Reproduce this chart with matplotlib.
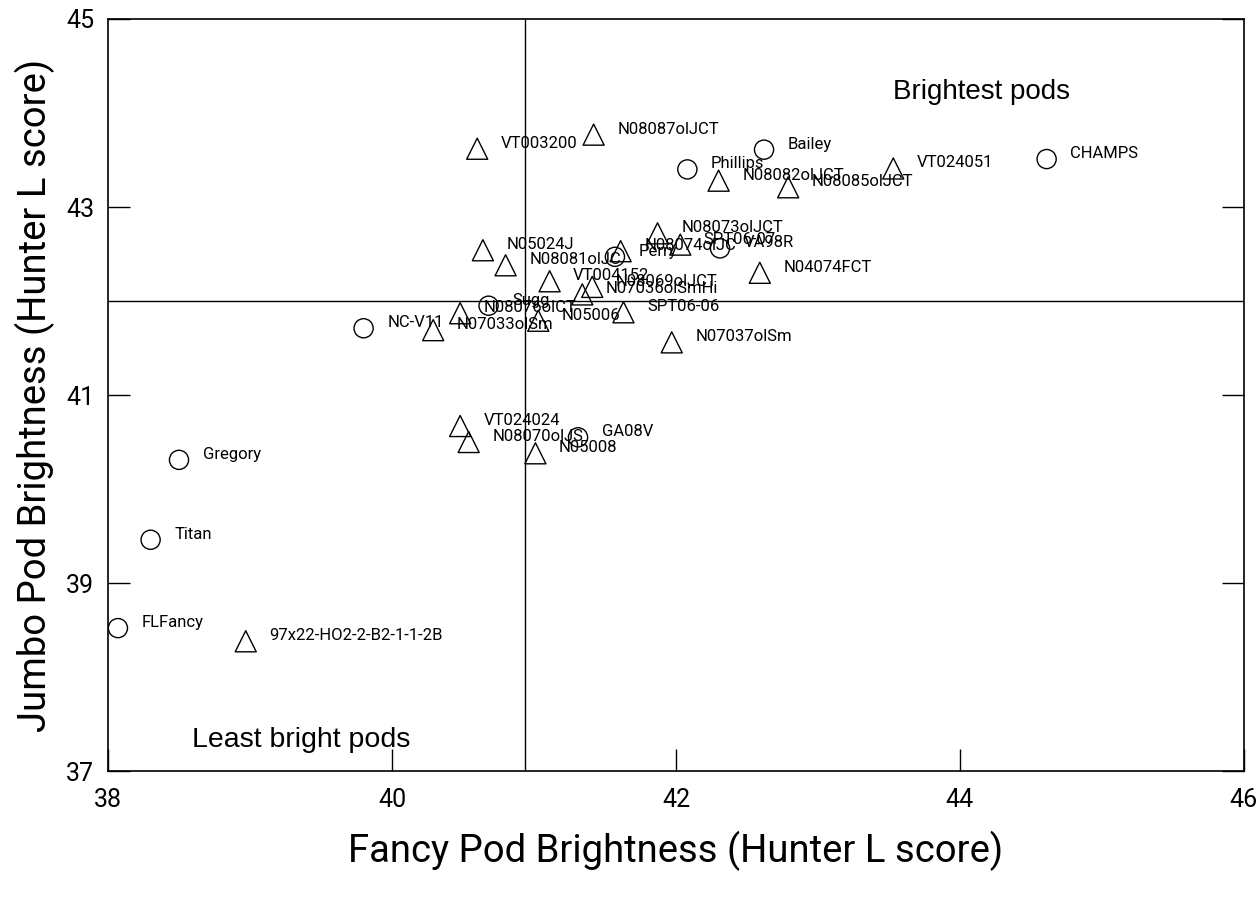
import matplotlib
matplotlib.use("Agg")
import matplotlib.pyplot as plt
from matplotlib import font_manager

names = ["CHAMPS", "Bailey", "Phillips", "NC-V11", "Gregory", "Titan", "FLFancy",
         "GA08V", "VA98R", "Perry", "Sugg",
         "VT003200", "N08087olJCT", "N08082olJCT", "N08085olJCT", "VT024051",
         "N08073olJCT", "N08074olJC", "SPT06-07", "N04074FCT", "N05024J",
         "N08081olJC", "VT004152", "N08069olJCT", "N07036olSmHi", "SPT06-06",
         "N08076olCT", "N07033olSm", "N05006", "N07037olSm", "VT024024",
         "N08070olJS", "N05008", "97x22-HO2-2-B2-1-1-2B"]
fancy = [44.61, 42.62, 42.08, 39.80, 38.50, 38.30, 38.07,
         41.31, 42.31, 41.57, 40.68,
         40.60, 41.42, 42.30, 42.79, 43.53,
         41.87, 41.61, 42.03, 42.59, 40.64,
         40.80, 41.11, 41.41, 41.34, 41.63,
         40.48, 40.29, 41.03, 41.97, 40.48,
         40.54, 41.01, 38.97]
jumbo = [43.51, 43.61, 43.40, 41.71, 40.31, 39.46, 38.52,
         40.55, 42.56, 42.47, 41.95,
         43.62, 43.77, 43.28, 43.21, 43.41,
         42.72, 42.53, 42.60, 42.30, 42.54,
         42.38, 42.21, 42.15, 42.07, 41.88,
         41.87, 41.69, 41.79, 41.56, 40.67,
         40.50, 40.38, 38.38]
kind = ["cultivar"] * 11 + ["line"] * 23

ref_x = 40.94
ref_y = 42.0

avail = {f.name for f in font_manager.fontManager.ttflist}
narrow = "Liberation Sans Narrow" if "Liberation Sans Narrow" in avail else "Roboto"

fig = plt.figure(figsize=(12.6, 8.97), dpi=100)
ax = fig.add_axes([108/1260, 1-771/897, (1244-108)/1260, (771-19)/897])

cx = [x for x, k in zip(fancy, kind) if k == "cultivar"]
cy = [y for y, k in zip(jumbo, kind) if k == "cultivar"]
lx = [x for x, k in zip(fancy, kind) if k == "line"]
ly = [y for y, k in zip(jumbo, kind) if k == "line"]
ax.scatter(cx, cy, s=190, marker="o", facecolors="none", edgecolors="black", linewidths=1.0, zorder=3)
ax.scatter(lx, ly, s=230, marker="^", facecolors="none", edgecolors="black", linewidths=1.0, zorder=3)

for n, x, y in zip(names, fancy, jumbo):
    ax.annotate(n, (x, y), xytext=(17, 4), textcoords="offset points",
                ha="left", va="center", fontsize=12, family=[narrow, "DejaVu Sans"], zorder=4)

ax.axvline(ref_x, color="black", lw=1.0, zorder=1)
ax.axhline(ref_y, color="black", lw=1.0, zorder=1)

ax.text(43.53, 44.22, "Brightest pods", fontsize=20, family=["Liberation Sans", "DejaVu Sans"], va="center", ha="left")
ax.text(38.59, 37.33, "Least bright pods", fontsize=20.5, family=["Liberation Sans", "DejaVu Sans"], va="center", ha="left")

ax.set_xlim(38, 46)
ax.set_ylim(37, 45)
ax.set_xticks([38, 40, 42, 44, 46])
ax.set_yticks([37, 39, 41, 43, 45])
ax.tick_params(direction="in", length=16, width=1, top=False, right=True, labelsize=18, pad=10)
ax.tick_params(axis="x", pad=12)
for lab in ax.get_xticklabels() + ax.get_yticklabels():
    lab.set_family([narrow, "DejaVu Sans"])
for s in ax.spines.values():
    s.set_linewidth(1.2)

ax.set_xlabel("Fancy Pod Brightness (Hunter L score)", fontsize=27.5, family=[narrow, "DejaVu Sans"], labelpad=14)
ax.set_ylabel("Jumbo Pod Brightness (Hunter L score)", fontsize=27.5, family=[narrow, "DejaVu Sans"], labelpad=8)

fig.savefig("out.png", dpi=100)
